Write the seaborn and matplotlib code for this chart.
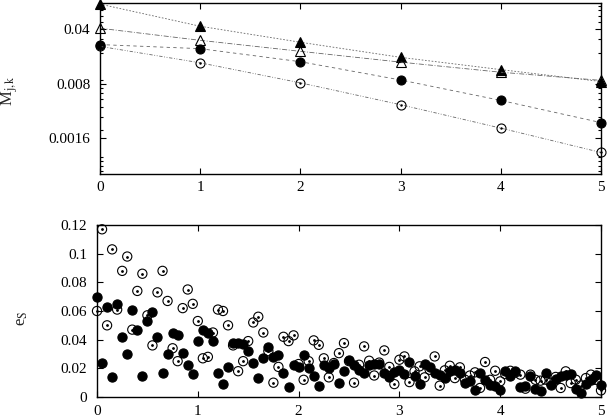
import numpy as np
import matplotlib
matplotlib.use("Agg")
import matplotlib.pyplot as plt
import seaborn as sns
from matplotlib.ticker import FixedLocator, NullFormatter, LogLocator

# ---------------------------------- Data ----------------------------------

# top panel: M_{j,k} vs k
k_levels = [0, 1, 2, 3, 4, 5]
m_tri_filled = [0.0842, 0.0437, 0.0272, 0.0174, 0.0121, 0.0085]
m_tri_open = [0.0412, 0.0288, 0.0208, 0.0151, 0.0112, 0.0088]
m_circ_filled = [0.0254, 0.0225, 0.0153, 0.0089, 0.00486, 0.00252]
m_circ_open = [0.0241, 0.0148, 0.00818, 0.00428, 0.00214, 0.00104]
m_yticks = [0.0016, 0.008, 0.04]
m_ytick_labels = ["0.0016", "0.008", "0.04"]

# bottom panel: e_S, sampled every 0.05 from 0 to 5
t_grid = np.linspace(0, 5, 101)
es_open = [
    0.060, 0.117, 0.050, 0.103, 0.061, 0.088, 0.098, 0.047, 0.074, 0.086,
    0.057, 0.036, 0.073, 0.088, 0.067, 0.034, 0.025, 0.062, 0.075, 0.065,
    0.053, 0.027, 0.028, 0.045, 0.061, 0.060, 0.050, 0.036, 0.018, 0.025,
    0.039, 0.052, 0.056, 0.045, 0.032, 0.010, 0.021, 0.042, 0.039, 0.043,
    0.023, 0.012, 0.025, 0.0395, 0.0364, 0.027, 0.0137, 0.0237, 0.0306, 0.0376,
    0.025, 0.010, 0.0225, 0.0353, 0.0253, 0.015, 0.024, 0.0325, 0.021, 0.009,
    0.026, 0.0283, 0.0104, 0.0179, 0.0214, 0.0137, 0.019, 0.0283, 0.0079, 0.0186,
    0.0218, 0.0132, 0.0207, 0.0121, 0.015, 0.0172, 0.0063, 0.0244, 0.012, 0.0183,
    0.0109, 0.016, 0.0183, 0.017, 0.0156, 0.0058, 0.0156, 0.012, 0.0114, 0.0121,
    0.010, 0.014, 0.0063, 0.0179, 0.0097, 0.0121, 0.008, 0.0132, 0.0156, 0.012,
    0.0046,
]
es_filled = [
    0.070, 0.024, 0.063, 0.014, 0.065, 0.042, 0.030, 0.061, 0.047, 0.015,
    0.053, 0.059, 0.042, 0.017, 0.030, 0.045, 0.043, 0.031, 0.022, 0.016,
    0.039, 0.047, 0.045, 0.039, 0.017, 0.009, 0.021, 0.038, 0.0375, 0.037,
    0.032, 0.0235, 0.013, 0.027, 0.035, 0.028, 0.029, 0.017, 0.0072, 0.022,
    0.021, 0.0295, 0.020, 0.0144, 0.0074, 0.022, 0.020, 0.023, 0.0097, 0.0183,
    0.026, 0.022, 0.019, 0.0167, 0.022, 0.023, 0.023, 0.0167, 0.014, 0.0172,
    0.0186, 0.0162, 0.0244, 0.0144, 0.009, 0.023, 0.0209, 0.0167, 0.0151, 0.0132,
    0.0179, 0.0186, 0.0167, 0.0097, 0.0109, 0.0051, 0.0167, 0.0121, 0.0084, 0.0074,
    0.0051, 0.0183, 0.0144, 0.0179, 0.007, 0.0074, 0.0144, 0.0058, 0.004, 0.0167,
    0.0086, 0.0128, 0.0144, 0.0156, 0.016, 0.0058, 0.0028, 0.0093, 0.0121, 0.0151,
    0.0086,
]
es_yticks = [0, 0.02, 0.04, 0.06, 0.08, 0.1, 0.12]
es_ytick_labels = ["0", "0.02", "0.04", "0.06", "0.08", "0.1", "0.12"]

# ---------------------------------- Style ----------------------------------

sns.set_theme(style="ticks")
plt.rcParams["font.family"] = ["Liberation Serif", "DejaVu Serif"]
plt.rcParams["mathtext.fontset"] = "stix"
plt.rcParams["xtick.direction"] = "in"
plt.rcParams["ytick.direction"] = "in"
plt.rcParams["xtick.top"] = True
plt.rcParams["ytick.right"] = True

fig = plt.figure(figsize=(6.07, 4.19), dpi=100)
ax1 = fig.add_axes([100 / 607, 1 - 174 / 419, 501 / 607, 171 / 419])
ax2 = fig.add_axes([97 / 607, 1 - 397 / 419, 504 / 607, 172 / 419])

# ---------------------------------- Top panel ----------------------------------

series = [
    (m_tri_filled, "^", "black", (0, (2, 2))),
    (m_tri_open, "^", "none", (0, (6, 2, 1, 2))),
    (m_circ_filled, "o", "black", (0, (4, 4))),
    (m_circ_open, "o", "none", (0, (4, 2, 1, 2, 1, 2))),
]
for vals, mk, fc, ls in series:
    sns.lineplot(x=k_levels, y=vals, ax=ax1, color="0.4", lw=0.6, linestyle=ls,
                 marker=mk, markersize=6.5, markerfacecolor=fc, markeredgecolor="black",
                 markeredgewidth=0.8, clip_on=False)
    if fc == "none" and mk == "o":
        ax1.plot(k_levels, vals, ls="none", marker=".", ms=1.5, color="black", clip_on=False)

ax1.set_yscale("log")
ax1.set_ylim(0.00055, 0.087)
ax1.set_xlim(0, 5)
ax1.yaxis.set_major_locator(FixedLocator(m_yticks))
ax1.set_yticklabels(m_ytick_labels)
ax1.yaxis.set_minor_locator(LogLocator(base=10, subs=np.arange(2, 10)))
ax1.yaxis.set_minor_formatter(NullFormatter())
ax1.set_xticks(k_levels)
ax1.set_ylabel(r"M$_{\rm j,k}$", fontsize=12)
ax1.yaxis.set_label_coords(-0.16, 0.49)
ax1.tick_params(axis="x", pad=5)

# ---------------------------------- Bottom panel ----------------------------------

sns.scatterplot(x=t_grid, y=es_open, ax=ax2, s=44, facecolor="none", edgecolor="black",
                linewidth=0.8, clip_on=False, zorder=3)
ax2.scatter(t_grid, es_open, s=1, color="black", clip_on=False, zorder=3)
sns.scatterplot(x=t_grid, y=es_filled, ax=ax2, s=44, color="black", edgecolor="black",
                linewidth=0.8, clip_on=False, zorder=4)

ax2.set_xlim(0, 5)
ax2.set_ylim(0, 0.12)
ax2.set_xticks(k_levels)
ax2.yaxis.set_major_locator(FixedLocator(es_yticks))
ax2.set_yticklabels(es_ytick_labels)
ax2.set_ylabel(r"e$_{\rm S}$", fontsize=12)
ax2.yaxis.set_label_coords(-0.133, 0.46)
ax2.tick_params(axis="x", pad=6)

for ax in (ax1, ax2):
    ax.tick_params(which="both", labelsize=11, width=0.8, colors="black")
    ax.tick_params(axis="y", pad=7)
    ax.tick_params(which="major", length=4)
    ax.tick_params(which="minor", length=2)
    for sp in ax.spines.values():
        sp.set_linewidth(1.0)
        sp.set_color("black")
    ax.set_xlabel("")

fig.savefig("out.png", dpi=100)
